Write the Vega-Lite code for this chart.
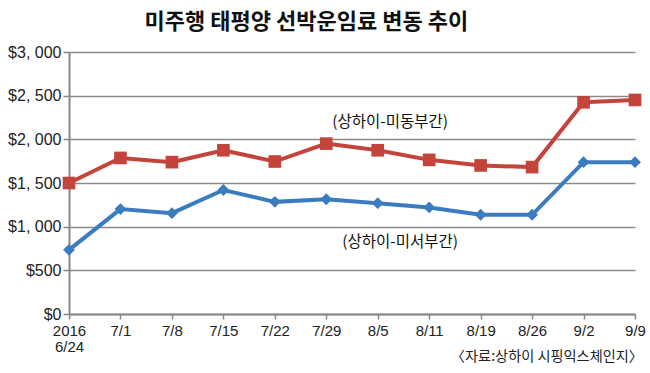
{
  "$schema": "https://vega.github.io/schema/vega-lite/v6.json",
  "autosize": "none",
  "width": 566,
  "height": 262,
  "padding": {"left": 69, "top": 52, "right": 15, "bottom": 59},
  "background": "white",
  "title": {
    "text": "미주행 태평양 선박운임료 변동 추이",
    "font": "Noto Sans CJK KR",
    "fontSize": 22,
    "fontWeight": "bold",
    "color": "#111111",
    "anchor": "start",
    "dx": 137,
    "offset": 10
  },
  "config": {
    "view": {"stroke": null},
    "axis": {"labelFont": "Liberation Sans Narrow, Liberation Sans", "labelColor": "#222222"}
  },
  "layer": [
    {
      "data": {"values": [
        {"date": "6/24", "series": "east", "value": 1500},
        {"date": "7/1", "series": "east", "value": 1787},
        {"date": "7/8", "series": "east", "value": 1739},
        {"date": "7/15", "series": "east", "value": 1875},
        {"date": "7/22", "series": "east", "value": 1746},
        {"date": "7/29", "series": "east", "value": 1951},
        {"date": "8/5", "series": "east", "value": 1875},
        {"date": "8/11", "series": "east", "value": 1765},
        {"date": "8/19", "series": "east", "value": 1701},
        {"date": "8/26", "series": "east", "value": 1682},
        {"date": "9/2", "series": "east", "value": 2424},
        {"date": "9/9", "series": "east", "value": 2451},
        {"date": "6/24", "series": "west", "value": 735},
        {"date": "7/1", "series": "west", "value": 1201},
        {"date": "7/8", "series": "west", "value": 1155},
        {"date": "7/15", "series": "west", "value": 1420},
        {"date": "7/22", "series": "west", "value": 1284},
        {"date": "7/29", "series": "west", "value": 1314},
        {"date": "8/5", "series": "west", "value": 1269},
        {"date": "8/11", "series": "west", "value": 1220},
        {"date": "8/19", "series": "west", "value": 1136},
        {"date": "8/26", "series": "west", "value": 1136},
        {"date": "9/2", "series": "west", "value": 1739},
        {"date": "9/9", "series": "west", "value": 1739}
      ]},
      "encoding": {
        "x": {
          "field": "date", "type": "ordinal",
          "scale": {"type": "point", "padding": 0, "domain": ["6/24","7/1","7/8","7/15","7/22","7/29","8/5","8/11","8/19","8/26","9/2","9/9"]},
          "axis": {
            "title": null, "labelAngle": 0, "grid": false,
            "domainColor": "#888888", "domainWidth": 2,
            "tickColor": "#888888", "tickSize": 5, "tickWidth": 1.5,
            "labelFontSize": 15, "labelPadding": 4, "labelLineHeight": 16,
            "labelExpr": "datum.value == '6/24' ? ['2016', '6/24'] : datum.value"
          }
        },
        "y": {
          "field": "value", "type": "quantitative",
          "scale": {"domain": [0, 3000], "nice": false},
          "axis": {
            "title": null, "values": [0, 500, 1000, 1500, 2000, 2500, 3000],
            "grid": true, "gridColor": "#8a8a8a", "gridWidth": 1.5,
            "domainColor": "#888888", "domainWidth": 2,
            "tickColor": "#888888", "tickSize": 6, "tickWidth": 1.5,
            "labelFontSize": 16, "labelPadding": 2,
            "labelExpr": "datum.value < 1000 ? '$' + datum.value : '$' + floor(datum.value / 1000) + ', ' + format(datum.value % 1000, '03d')"
          }
        },
        "color": {
          "field": "series", "type": "nominal",
          "scale": {"domain": ["east", "west"], "range": ["#c4443b", "#3b7bbf"]},
          "legend": null
        }
      },
      "layer": [
        {"mark": {"type": "line", "strokeWidth": 4}},
        {
          "mark": {"type": "point", "filled": true, "opacity": 1},
          "encoding": {
            "shape": {"field": "series", "type": "nominal", "scale": {"domain": ["east", "west"], "range": ["square", "diamond"]}, "legend": null},
            "size": {"field": "series", "type": "nominal", "scale": {"domain": ["east", "west"], "range": [160, 140]}, "legend": null}
          }
        }
      ]
    },
    {
      "data": {"values": [{"date": "7/29", "value": 2194, "label": "(상하이-미동부간)"}]},
      "mark": {"type": "text", "font": "Noto Sans CJK KR", "fontSize": 15.5, "color": "#111111", "align": "left", "baseline": "middle", "dx": 6},
      "encoding": {
        "x": {"field": "date", "type": "ordinal"},
        "y": {"field": "value", "type": "quantitative"},
        "text": {"field": "label"}
      }
    },
    {
      "data": {"values": [{"date": "7/29", "value": 824, "label": "(상하이-미서부간)"}]},
      "mark": {"type": "text", "font": "Noto Sans CJK KR", "fontSize": 15.5, "color": "#111111", "align": "left", "baseline": "middle", "dx": 16},
      "encoding": {
        "x": {"field": "date", "type": "ordinal"},
        "y": {"field": "value", "type": "quantitative"},
        "text": {"field": "label"}
      }
    },
    {
      "data": {"values": [{"date": "9/9", "value": -490, "label": "〈자료:상하이 시핑익스체인지〉"}]},
      "mark": {"type": "text", "font": "Noto Sans CJK KR", "fontSize": 14.2, "color": "#222222", "align": "right", "baseline": "middle", "dx": 8},
      "encoding": {
        "x": {"field": "date", "type": "ordinal"},
        "y": {"field": "value", "type": "quantitative"},
        "text": {"field": "label"}
      }
    }
  ]
}
